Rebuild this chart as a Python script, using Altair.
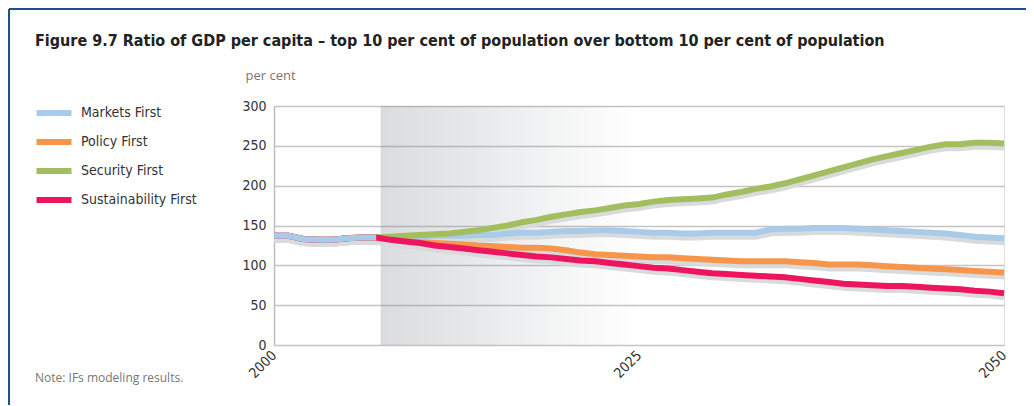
import altair as alt
import pandas as pd

years_hist = list(range(2000, 2008))
hist = [137, 137, 133, 132, 132, 134, 135, 135]

years_proj = list(range(2007, 2051))
markets = [135, 135, 136, 136, 137, 137, 137, 138, 138, 140, 141, 141, 142, 143, 143, 144, 144,
           143, 142, 141, 141, 140, 140, 141, 141, 141, 141, 145, 146, 146, 147, 147, 147, 146,
           145, 144, 143, 142, 141, 140, 138, 136, 135, 134]
policy = [135, 133, 131, 129, 128, 127, 126, 125, 124, 123, 122, 122, 121, 119, 116, 114, 113,
          112, 111, 110, 110, 109, 108, 107, 106, 105, 105, 105, 105, 104, 103, 101, 101, 101,
          100, 99, 98, 97, 96, 95, 94, 93, 92, 91]
security = [135, 136, 137, 138, 139, 140, 142, 144, 147, 150, 154, 157, 161, 164, 167, 169, 172,
            175, 177, 180, 182, 183, 184, 185, 189, 192, 196, 199, 203, 208, 213, 218, 223, 228,
            233, 237, 241, 245, 249, 252, 252, 254, 254, 253]
sustain = [135, 132, 130, 128, 125, 123, 121, 119, 117, 115, 113, 111, 110, 108, 106, 105, 103,
           101, 99, 97, 96, 94, 92, 90, 89, 88, 87, 86, 85, 83, 81, 79, 77, 76, 75, 74, 74, 73,
           72, 71, 70, 68, 67, 65]

series_names = ["Markets First", "Policy First", "Security First", "Sustainability First"]
series_colors = ["#a9cbea", "#f7954b", "#a2be5e", "#ec155e"]
series_vals = [markets, policy, security, sustain]

y_ticks = [0, 50, 100, 150, 200, 250, 300]
x_ticks = [2000, 2025, 2050]
shade_start, shade_end = 2007.3, 2025

title_text = ("Figure 9.7 Ratio of GDP per capita \u2013 top 10 per cent of population "
              "over bottom 10 per cent of population")
note_text = "Note: IFs modeling results."

rows = []
for name, vals in zip(series_names, series_vals):
    for y, v in zip(years_hist[:-1], hist[:-1]):
        rows.append({"year": y, "value": v, "series": name})
    for y, v in zip(years_proj, vals):
        rows.append({"year": y, "value": v, "series": name})
df = pd.DataFrame(rows)
df_hist = pd.DataFrame({"year": years_hist, "value": hist, "series": "Markets First"})

font = "DejaVu Sans Condensed, Roboto, sans-serif"
light = "Open Sans, sans-serif"

x_enc = alt.X("year:Q", scale=alt.Scale(domain=[2000, 2050], nice=False),
              axis=alt.Axis(values=x_ticks, format="d", labelAngle=-45, labelAlign="right",
                            labelBaseline="middle", labelFontSize=14, labelFont=font,
                            labelColor="#333333", ticks=False, domain=False, grid=False,
                            labelPadding=8, title=None))
y_enc = alt.Y("value:Q", scale=alt.Scale(domain=[0, 300], nice=False),
              axis=alt.Axis(values=y_ticks, labelFontSize=14, labelFont=font,
                            labelColor="#333333", ticks=False, domainColor="#bdbdbd",
                            domainWidth=1.5, gridColor="#c4c4c4", gridWidth=1.3,
                            labelPadding=8, title="per cent", titleAngle=0,
                            titleAlign="left", titleBaseline="middle", titleX=-29, titleY=-31,
                            titleFont=light, titleFontSize=13, titleFontWeight="normal",
                            titleColor="#777777"))

shade_df = pd.DataFrame({"x": [shade_start], "x2": [shade_end]})
shade = alt.Chart(shade_df).mark_rect(
    color=alt.LinearGradient(
        gradient="linear",
        stops=[alt.GradientStop(color="rgba(120,125,135,0.27)", offset=0),
               alt.GradientStop(color="rgba(120,125,135,0.08)", offset=0.7),
               alt.GradientStop(color="rgba(120,125,135,0.0)", offset=1)],
        x1=0, x2=1, y1=0, y2=0)
).encode(x=alt.X("x:Q", scale=alt.Scale(domain=[2000, 2050], nice=False)), x2="x2:Q",
         y=alt.value(0), y2=alt.value(239))

color_scale = alt.Scale(domain=series_names, range=series_colors)

shadow = alt.Chart(df).mark_line(strokeWidth=6, color="#d9dadc", yOffset=4,
                                 strokeCap="butt").encode(
    x=x_enc, y=y_enc, detail="series:N")

lines = alt.Chart(df).mark_line(strokeWidth=6, strokeCap="butt").encode(
    x=x_enc, y=y_enc,
    color=alt.Color("series:N", scale=color_scale,
                    legend=alt.Legend(title=None, orient="none", legendX=-237, legendY=-10,
                                      symbolType="M-1.25,0L1.25,0", symbolSize=784,
                                      symbolStrokeWidth=6, labelFont=font, labelFontSize=14,
                                      labelColor="#333333", labelOffset=10, rowPadding=0)))

hist_line = alt.Chart(df_hist).mark_line(strokeWidth=6, color="#a9cbea",
                                         strokeCap="butt").encode(x=x_enc, y=y_enc)

note = alt.Chart(pd.DataFrame({"t": [note_text]})).mark_text(
    align="left", baseline="middle", font=light, fontSize=12, color="#777777"
).encode(text="t:N", x=alt.value(-239), y=alt.value(272))

title = alt.Chart(pd.DataFrame({"t": [title_text]})).mark_text(
    align="left", baseline="middle", font=font, fontSize=16, fontWeight="bold",
    color="#222222"
).encode(text="t:N", x=alt.value(-239), y=alt.value(-65))

frame_top = alt.Chart(pd.DataFrame({"a": [0]})).mark_rule(color="#1d4f91", strokeWidth=2).encode(
    x=alt.value(-265), x2=alt.value(760), y=alt.value(-97))
frame_left = alt.Chart(pd.DataFrame({"a": [0]})).mark_rule(color="#1d4f91", strokeWidth=2).encode(
    x=alt.value(-265), y=alt.value(-97), y2=alt.value(320))

chart = alt.layer(shade, shadow, lines, hist_line, note, title, frame_top, frame_left).properties(
    width=730, height=239,
    autosize=alt.AutoSizeParams(type="none"),
    padding={"left": 266, "top": 98, "right": 22, "bottom": 60},
).configure_view(stroke="#bdbdbd", strokeWidth=1.5).configure(background="white")

chart.save("out.html", embed_options={"renderer": "svg", "actions": False})
